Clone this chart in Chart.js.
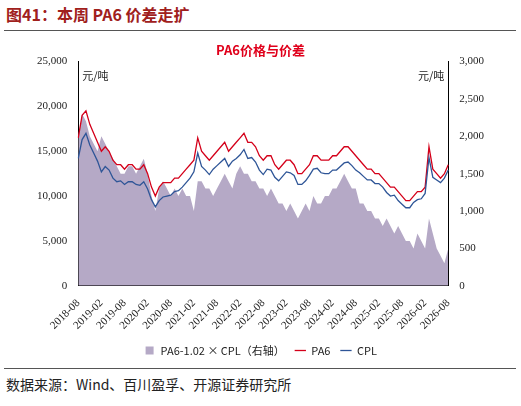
<!DOCTYPE html>
<html><head><meta charset="utf-8">
<script src="https://cdn.jsdelivr.net/npm/chart.js@4"></script>
<style>
body{margin:0;width:521px;height:406px;background:#fff;font-family:"Noto Sans CJK SC",sans-serif;overflow:hidden}
#head{position:absolute;left:6px;top:2px;font-size:16px;font-weight:bold;color:#a0201c;font-family:"Noto Sans CJK SC","Liberation Serif"}
#hl{position:absolute;left:4px;top:30px;width:512px;border-top:1px solid #555}
#wrap{position:absolute;left:0;top:40px;width:521px;height:326px}
#fl{position:absolute;left:4px;top:368px;width:512px;border-top:1px solid #555}
#foot{position:absolute;left:6px;top:374px;font-size:14px;color:#222}
</style></head><body>
<div id="head">图41：本周 PA6 价差走扩</div>
<div id="hl"></div>
<div id="wrap"><canvas id="c"></canvas></div>
<div id="fl"></div>
<div id="foot">数据来源：Wind、百川盈孚、开源证券研究所</div>
<script>
const labels = [];
for (let y = 2018; y <= 2026; y++) for (let m = 1; m <= 12; m++) {
  if ((y === 2018 && m < 8) || (y === 2026 && m > 8)) continue;
  labels.push(y + "-" + String(m).padStart(2, "0"));
}
const pa6 = [16500,19000,19500,18000,17000,
 16000,15000,15500,15000,14000,13500,13500,13000,13500,13500,13000,13000,
 13500,12500,11000,10000,11000,11500,11500,11500,12000,12000,12500,13000,
 13500,14000,16500,15000,14500,14000,14500,15000,15500,16000,15000,15500,
 16000,16500,17000,16000,16000,15500,14500,14000,14500,14500,13500,13000,
 13500,14000,14000,13500,12500,12500,13000,13500,14500,14500,14000,14000,
 14000,14500,14500,15000,15500,15500,15000,14500,14000,13500,13000,13000,
 12500,12500,12000,11500,11000,11000,10500,10000,9500,9500,10000,10500,
 10500,11000,15500,13000,12500,12000,12500,13500];
const cpl = [14200,16300,17000,15700,14800,
 13900,12700,13300,12900,12000,11600,11700,11300,11600,11600,11300,11200,
 11600,10800,9600,8800,9500,9900,10000,10100,10500,10600,11000,11500,
 12000,12700,14800,13300,12900,12400,13000,13400,13800,14200,13300,13900,
 14200,14600,15200,14200,14300,13800,12900,12400,13000,12900,12100,11700,
 12200,12700,12600,12300,11300,11300,11700,12300,13000,13100,12600,12500,
 12500,12900,12900,13300,13700,13800,13400,12900,12600,12200,11800,11800,
 11400,11400,11000,10400,10000,10100,9500,9100,8700,8700,9300,9600,
 9700,10300,14300,12100,11800,11500,12000,12900];
const spread = [2000,2300,2200,2000,1900,
 1800,2000,1900,1800,1700,1600,1500,1500,1600,1600,1500,1600,
 1700,1500,1200,1000,1300,1400,1300,1200,1300,1200,1300,1200,
 1200,1000,1400,1400,1300,1300,1200,1300,1400,1500,1400,1300,
 1500,1600,1500,1500,1400,1400,1300,1300,1200,1300,1200,1100,
 1100,1000,1100,1000,900,1000,1100,1000,1200,1100,1100,1200,
 1200,1300,1300,1400,1500,1400,1300,1300,1100,1100,1000,1000,
 900,900,800,900,800,700,800,700,600,600,500,700,
 600,500,900,700,500,400,300,500];

const unitPlugin = {
  id: "units",
  afterDraw(chart) {
    const c = chart.ctx, a = chart.chartArea;
    c.save();
    c.font = "11px 'Noto Sans CJK SC'";
    c.fillStyle = "#222";
    c.textAlign = "left";
    c.fillText("元/吨", a.left + 4, a.top + 14);
    c.textAlign = "right";
    c.fillText("元/吨", a.right - 4, a.top + 14);
    c.restore();
  }
};

const tickFont = { family: "Liberation Serif", size: 11 };
new Chart(document.getElementById("c"), {
  data: {
    labels: labels,
    datasets: [
      { type: "line", label: "PA6-1.02 × CPL（右轴）", data: spread, yAxisID: "y1",
        fill: "origin", backgroundColor: "#b5a9c6", borderWidth: 0, pointRadius: 0,
        pointStyle: "rect", order: 3 },
      { type: "line", label: "PA6", data: pa6, yAxisID: "y", borderColor: "#d4001a",
        borderWidth: 1.3, pointRadius: 0, pointStyle: "line", fill: false, order: 2 },
      { type: "line", label: "CPL", data: cpl, yAxisID: "y", borderColor: "#2e5597",
        borderWidth: 1.3, pointRadius: 0, pointStyle: "line", fill: false, order: 1 }
    ]
  },
  options: {
    responsive: true,
    maintainAspectRatio: false,
    animation: false,
    layout: { padding: { left: 34, right: 34 } },
    plugins: {
      title: { display: true, text: "PA6价格与价差", color: "#e0001b",
        font: { family: "Noto Sans CJK SC", size: 13, weight: "bold" }, padding: { top: 2, bottom: 4 } },
      legend: { position: "bottom",
        labels: { usePointStyle: true, boxWidth: 22, boxHeight: 8,
          sort: function (a, b) { return a.datasetIndex - b.datasetIndex; },
          font: { family: "Noto Sans CJK SC", size: 11 }, color: "#222" } }
    },
    scales: {
      x: { grid: { display: false }, border: { color: "#000" },
        ticks: { autoSkip: false, maxRotation: 45, minRotation: 45, font: tickFont, color: "#222",
          callback: function (v, i) { return i % 6 === 0 ? labels[i] : ""; } } },
      y: { min: 0, max: 25000, grid: { display: false }, border: { color: "#000" },
        ticks: { stepSize: 5000, font: tickFont, color: "#222" } },
      y1: { position: "right", min: 0, max: 3000, grid: { display: false }, border: { color: "#000" },
        ticks: { stepSize: 500, font: tickFont, color: "#222" } }
    }
  },
  plugins: [unitPlugin]
});
</script>
</body></html>
